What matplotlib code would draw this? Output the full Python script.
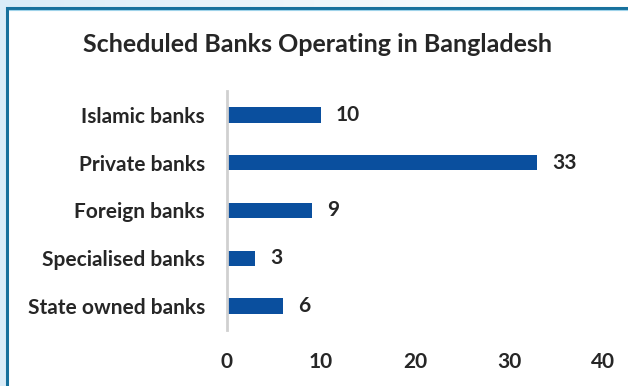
import numpy as np
import matplotlib
matplotlib.use("Agg")
import matplotlib.pyplot as plt
from matplotlib.patches import Rectangle
from matplotlib.colors import LinearSegmentedColormap

categories = ["State owned banks", "Specialised banks", "Foreign banks",
              "Private banks", "Islamic banks"]
counts = [6, 3, 9, 33, 10]
x_ticks = [0, 10, 20, 30, 40]
title = "Scheduled Banks Operating in Bangladesh"

W, H = 628, 386
fig = plt.figure(figsize=(W / 100, H / 100), dpi=100)
fig.patch.set_facecolor("white")

# soft blue backdrop fading to white towards the right
bg = fig.add_axes([0, 0, 1, 1], zorder=-10)
grad = np.linspace(0, 1, 256).reshape(1, -1)
cmap = LinearSegmentedColormap.from_list("bg", ["#d9ecf8", "#eef6fb", "#ffffff"])
bg.imshow(grad, aspect="auto", cmap=cmap, extent=[0, W, 0, H])
bg.set_xlim(0, W)
bg.set_ylim(H, 0)
bg.axis("off")
# white panel with a teal frame
bg.add_patch(Rectangle((7, 8), W + 10, H + 10, facecolor="white",
                       edgecolor="#16709c", linewidth=2.2))
bg.plot([8.5, W], [9.6, 9.6], color="#9fd3ea", lw=0.8)

ax = fig.add_axes([227 / W, 1 - 330 / H, (603 - 227) / W, (330 - 91) / H])
ax.set_facecolor("none")
y = np.arange(len(categories))
bars = ax.barh(y, counts, height=0.32, color="#0a4f9e")
ax.set_xlim(0, 40)
ax.set_ylim(-0.5, len(categories) - 0.5)

font = "Lato"
fs = 15
ax.set_yticks(y)
ax.set_yticklabels(categories, fontsize=fs, fontweight="bold", family=font,
                   color="#262626")
ax.set_xticks(x_ticks)
ax.set_xticklabels([str(t) for t in x_ticks], fontsize=fs, fontweight="bold",
                   family=font, color="#262626")
ax.tick_params(axis="y", length=0, pad=16)
ax.tick_params(axis="x", length=0, pad=16)
for side in ["top", "right", "bottom"]:
    ax.spines[side].set_visible(False)
ax.spines["left"].set_color("#d0d0d0")
ax.spines["left"].set_linewidth(2)

for yi, v in zip(y, counts):
    ax.text(v + 1.6, yi, str(v), va="center", ha="left", fontsize=fs,
            fontweight="bold", family=font, color="#262626")

fig.text(0.505, 1 - 45 / H, title, ha="center", va="center", fontsize=18,
         fontweight="bold", family=font, color="#262626")

fig.savefig("out.png", dpi=100)
